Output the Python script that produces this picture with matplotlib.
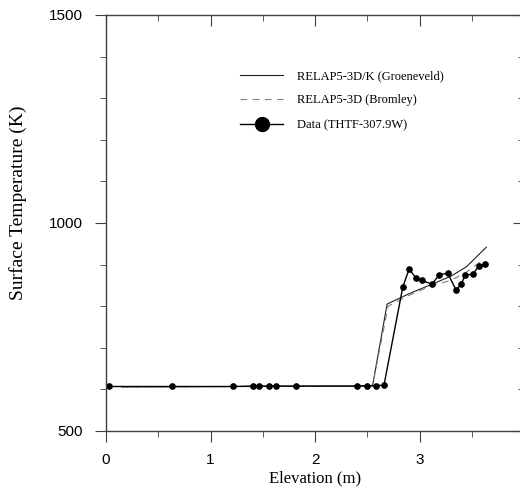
import numpy as np
import matplotlib
matplotlib.use("Agg")
from matplotlib import pyplot as plt
from matplotlib.lines import Line2D
from matplotlib.ticker import MultipleLocator

# RELAP5-3D/K (Groeneveld)
groen_x = [0.15, 2.55, 2.69, 2.90, 3.12, 3.30, 3.45, 3.64]
groen_t = [606, 608, 805, 830, 853, 872, 895, 942]

# RELAP5-3D (Bromley)
brom_x = [0.15, 2.55, 2.70, 2.90, 3.12, 3.30, 3.45, 3.60]
brom_t = [606, 608, 800, 826, 850, 862, 882, 910]

# Data (THTF-307.9W)
data_x = [0.03, 0.63, 1.22, 1.41, 1.46, 1.56, 1.63, 1.82, 2.40, 2.50, 2.58, 2.66,
          2.84, 2.90, 2.97, 3.02, 3.12, 3.19, 3.27, 3.35, 3.40, 3.44, 3.51, 3.57, 3.63]
data_t = [607, 607, 607, 608, 608, 608, 608, 608, 608, 609, 609, 610,
          846, 889, 867, 862, 853, 876, 879, 839, 854, 875, 877, 897, 902]

serif = ["Liberation Serif", "DejaVu Serif"]
sans = ["Liberation Sans", "DejaVu Sans"]

fig = plt.figure(figsize=(5.2, 4.9), dpi=100)
# axes runs slightly past the right edge of the figure, like the original
ax = fig.add_axes([106 / 520, 1 - 431 / 490, 418 / 520, 416 / 490])

ax.plot(groen_x, groen_t, color="#202020", lw=0.8)
ax.plot(brom_x, brom_t, color="#808080", lw=0.8, ls=(0, (6, 5)))
ax.plot(data_x, data_t, color="black", lw=1.0, marker="o", ms=3.8)

ax.set_xlim(0, 4)
ax.set_ylim(500, 1500)
ax.set_xticks([0, 1, 2, 3])
ax.set_yticks([500, 1000, 1500])
ax.xaxis.set_minor_locator(MultipleLocator(0.5))
ax.yaxis.set_minor_locator(MultipleLocator(100))

for s in ax.spines.values():
    s.set_color("#404040")
    s.set_linewidth(1.0)

ax.tick_params(which="both", top=True, right=True, color="#404040")
ax.tick_params(axis="x", which="major", direction="out", length=8, pad=8, labelsize=11)
ax.tick_params(axis="y", which="major", direction="out", length=8, pad=9, labelsize=11)
ax.tick_params(which="minor", direction="out", length=4)
for t in ax.get_xticklabels() + ax.get_yticklabels():
    t.set_family(sans)

# top and right ticks point inward
for tick in ax.xaxis.get_major_ticks() + ax.xaxis.get_minor_ticks():
    tick.tick2line.set_marker(matplotlib.lines.TICKDOWN)
for tick in ax.yaxis.get_major_ticks() + ax.yaxis.get_minor_ticks():
    tick.tick2line.set_marker(matplotlib.lines.TICKLEFT)

ax.set_xlabel("Elevation (m)", family=serif, fontsize=12, labelpad=2)
ax.set_ylabel("Surface Temperature (K)", family=serif, fontsize=14)
ax.yaxis.set_label_coords(-0.19, 0.548)

handles = [
    Line2D([], [], color="#202020", lw=0.8),
    Line2D([], [], color="#808080", lw=0.8, ls=(0, (6, 5))),
    Line2D([], [], color="black", lw=1.0, marker="o", ms=10),
]
labels = ["RELAP5-3D/K (Groeneveld)", "RELAP5-3D (Bromley)", "Data (THTF-307.9W)"]
ax.legend(handles, labels, loc="upper left", bbox_to_anchor=(0.294, 0.895),
          frameon=False, prop={"family": serif, "size": 9},
          handlelength=3.45, handletextpad=1.1, labelspacing=1.0)

fig.savefig("out.png", dpi=100)
